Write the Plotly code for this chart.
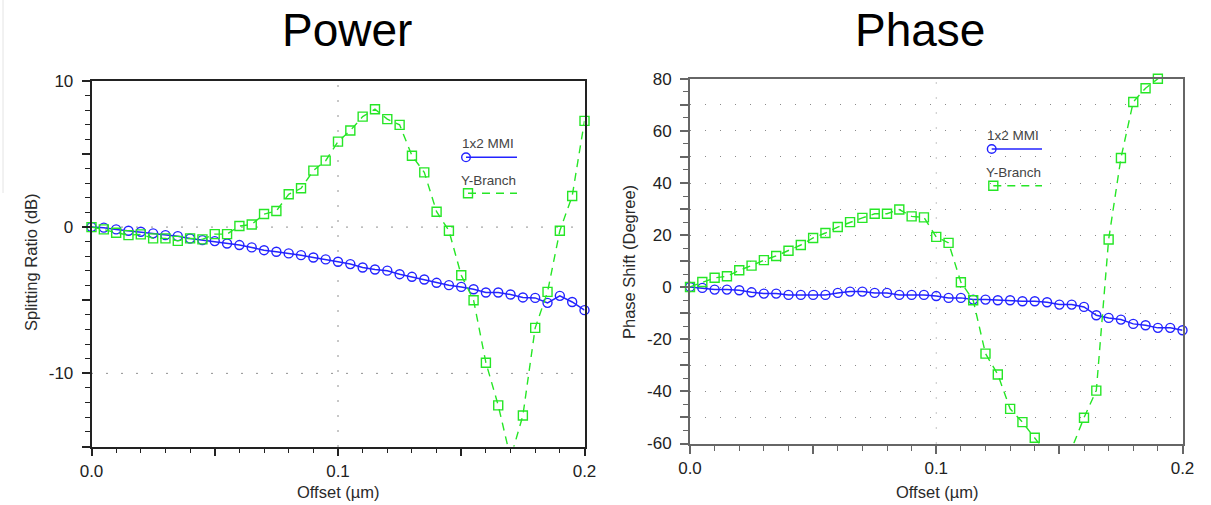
import plotly.graph_objects as go

W, H = 1211, 505

# ---------------- data ----------------
offset = [round(i * 0.005, 3) for i in range(41)]  # µm

power_mmi = [0.00, -0.04, -0.16, -0.25, -0.32, -0.43, -0.55, -0.62, -0.78, -0.89,
             -0.96, -1.12, -1.23, -1.39, -1.58, -1.69, -1.80, -1.92, -2.08, -2.21,
             -2.37, -2.53, -2.76, -2.90, -2.98, -3.22, -3.40, -3.58, -3.81, -3.97,
             -4.09, -4.25, -4.47, -4.47, -4.61, -4.81, -4.84, -5.18, -4.70, -5.12,
             -5.68]
power_yb = [0.00, -0.16, -0.39, -0.55, -0.50, -0.77, -0.77, -0.94, -0.77, -0.84,
            -0.48, -0.48, 0.07, 0.18, 0.89, 1.10, 2.24, 2.65, 3.86, 4.54,
            5.84, 6.60, 7.55, 8.06, 7.38, 6.99, 4.88, 3.74, 1.05, -0.25,
            -3.29, -5.00, -9.27, -12.19, -15.8, -12.88, -6.89, -4.43, -0.25, 2.12,
            7.26]
phase_mmi = [0.1, -0.27, -0.92, -0.92, -1.19, -1.96, -2.45, -2.45, -2.95, -2.95,
             -2.95, -2.95, -2.19, -1.69, -1.69, -2.19, -2.19, -2.95, -2.95, -2.95,
             -3.4, -4.1, -4.1, -4.76, -4.76, -5.02, -5.02, -5.41, -5.41, -5.79,
             -6.67, -6.67, -7.56, -10.78, -11.78, -12.43, -14.08, -14.61, -15.61, -15.61,
             -16.53]
phase_yb = [0.1, 2.0, 3.6, 4.2, 6.5, 8.3, 10.4, 12.0, 14.0, 16.2,
            18.9, 20.8, 23.1, 25.0, 26.6, 28.2, 28.2, 29.8, 27.2, 26.8,
            19.3, 17.0, 1.9, -5.0, -25.5, -33.5, -46.7, -51.8, -57.8, -64.0,
            -66.0, -62.0, -50.1, -39.7, 18.3, 49.6, 71.1, 76.4, 80.0, 84.0,
            87.0]

power_range = [-15, 10]
phase_range = [-60, 80]
x_range = [0, 0.2]

power_yticks = [-15, -10, -5, 0, 5, 10]
power_ytext = ['', '-10', '', '0', '', '10']
phase_yticks = list(range(-60, 81, 10))
phase_ytext = [str(v) if v % 20 == 0 else '' for v in phase_yticks]
x_ticks = [0, 0.05, 0.1, 0.15, 0.2]
x_text = ['0.0', '', '0.1', '', '0.2']

BLUE = '#2323ff'
GREEN = '#26e626'
FONT = 'Liberation Sans, Arial, sans-serif'


def px(x):
    return x / W


def py(y):
    return 1 - y / H


def in_range(vals, rng):
    return [v if rng[0] <= v <= rng[1] else None for v in vals]


fig = go.Figure()

panels = [
    ('x', 'y', power_mmi, power_yb, power_range),
    ('x2', 'y2', phase_mmi, phase_yb, phase_range),
]
for xa, ya, mmi, yb, rng in panels:
    fig.add_trace(go.Scatter(x=offset, y=mmi, mode='lines', xaxis=xa, yaxis=ya,
                             line=dict(color=BLUE, width=1.5), showlegend=False,
                             hoverinfo='skip'))
    fig.add_trace(go.Scatter(x=offset, y=in_range(mmi, rng), mode='markers', xaxis=xa, yaxis=ya,
                             marker=dict(symbol='circle-open', size=9, color=BLUE,
                                         line=dict(width=1.4, color=BLUE)),
                             cliponaxis=False, showlegend=False, name='1x2 MMI'))
    fig.add_trace(go.Scatter(x=offset, y=yb, mode='lines', xaxis=xa, yaxis=ya,
                             line=dict(color=GREEN, width=1.4, dash='8px,6px'),
                             showlegend=False, hoverinfo='skip'))
    fig.add_trace(go.Scatter(x=offset, y=in_range(yb, rng), mode='markers', xaxis=xa, yaxis=ya,
                             marker=dict(symbol='square-open', size=9, color=GREEN,
                                         line=dict(width=1.4, color=GREEN)),
                             cliponaxis=False, showlegend=False, name='Y-Branch'))

tickfont = dict(family=FONT, size=17, color='#222222')


def xaxis_cfg(domain, anchor, lc, lw):
    return dict(domain=domain, anchor=anchor, range=x_range, tickvals=x_ticks, ticktext=x_text,
                ticks='outside', ticklen=8, tickwidth=1.5, tickcolor=lc,
                minor=dict(dtick=0.01, tick0=0, ticks='outside', ticklen=5, tickwidth=1.2,
                           tickcolor=lc, showgrid=False),
                showline=True, linecolor=lc, linewidth=lw, mirror=True,
                showgrid=False, zeroline=False, tickfont=tickfont, fixedrange=True,
                automargin=False)


left_x = [91.5 / W, 584.5 / W]
left_y = [py(446.5), py(80.8)]
right_x = [690 / W, 1182.5 / W]
right_y = [py(443.5), py(78.8)]

fig.update_layout(
    width=W, height=H,
    margin=dict(l=0, r=0, t=0, b=0, pad=0, autoexpand=False),
    paper_bgcolor='white', plot_bgcolor='white',
    showlegend=False,
    xaxis=xaxis_cfg(left_x, 'y', '#222222', 1.6),
    yaxis=dict(domain=left_y, anchor='x', range=power_range, tickvals=power_yticks,
               ticktext=power_ytext, ticks='outside', ticklen=8, tickwidth=1.5,
               tickcolor='#222222', ticklabelstandoff=5,
               minor=dict(dtick=1, tick0=0, ticks='outside', ticklen=5, tickwidth=1.2,
                          tickcolor='#222222', showgrid=False),
               showline=True, linecolor='#222222', linewidth=1.6, mirror=True,
               showgrid=False, zeroline=False, tickfont=tickfont, fixedrange=True,
               automargin=False),
    xaxis2=xaxis_cfg(right_x, 'y2', '#666666', 2),
    yaxis2=dict(domain=right_y, anchor='x2', range=phase_range, tickvals=phase_yticks,
                ticktext=phase_ytext, ticks='outside', ticklen=8, tickwidth=1.5,
                tickcolor='#666666', ticklabelstandoff=5,
                minor=dict(dtick=5, tick0=0, ticks='outside', ticklen=5, tickwidth=1.2,
                           tickcolor='#666666', showgrid=False),
                showline=True, linecolor='#666666', linewidth=2, mirror=True,
                showgrid=True, gridcolor='#8a8a8a', gridwidth=1, griddash='1px,14px',
                zeroline=False, tickfont=tickfont, fixedrange=True, automargin=False),
)

shapes = []
for v in [0, -10]:
    shapes.append(dict(type='line', xref='x domain', yref='y', x0=0, x1=1, y0=v, y1=v,
                       line=dict(color='#222222', width=1, dash='1px,14px'), layer='below'))
shapes.append(dict(type='line', xref='x', yref='y domain', x0=0.1, x1=0.1, y0=0, y1=1,
                   line=dict(color='#222222', width=1, dash='1px,14px'), layer='below'))
shapes.append(dict(type='line', xref='x2', yref='y2 domain', x0=0.1, x1=0.1, y0=0, y1=1,
                   line=dict(color='#8a8a8a', width=1, dash='1px,14px'), layer='below'))

shapes.append(dict(type='line', xref='paper', yref='paper', x0=px(3), x1=px(3), y0=py(0), y1=py(193),
                   line=dict(color='#e4e4e4', width=1)))


def legend(text_x, mmi_y, yb_y, line_x0, line_x1, mmi_line_y, yb_line_y, sq_x):
    anns = [
        dict(text='1x2 MMI', x=px(text_x), y=py(mmi_y), xref='paper', yref='paper',
             showarrow=False, xanchor='center', yanchor='middle',
             font=dict(family=FONT, size=13.5, color='#444444')),
        dict(text='Y-Branch', x=px(text_x + 1), y=py(yb_y), xref='paper', yref='paper',
             showarrow=False, xanchor='center', yanchor='middle',
             font=dict(family=FONT, size=13.5, color='#444444')),
    ]
    shp = [
        dict(type='line', xref='paper', yref='paper', x0=px(line_x0), x1=px(line_x1),
             y0=py(mmi_line_y), y1=py(mmi_line_y), line=dict(color=BLUE, width=1.6)),
        dict(type='circle', xref='paper', yref='paper', x0=px(line_x0 - 4.3), x1=px(line_x0 + 4.3),
             y0=py(mmi_line_y + 4.3), y1=py(mmi_line_y - 4.3), line=dict(color=BLUE, width=1.4),
             fillcolor='rgba(0,0,0,0)'),
        dict(type='line', xref='paper', yref='paper', x0=px(sq_x), x1=px(line_x1),
             y0=py(yb_line_y), y1=py(yb_line_y), line=dict(color=GREEN, width=1.4, dash='8px,6px')),
        dict(type='rect', xref='paper', yref='paper', x0=px(sq_x - 4.5), x1=px(sq_x + 4.5),
             y0=py(yb_line_y + 4.5), y1=py(yb_line_y - 4.5), line=dict(color=GREEN, width=1.4),
             fillcolor='rgba(0,0,0,0)'),
    ]
    return anns, shp


a1, s1 = legend(487.5, 143, 180, 466, 517, 157.3, 193.3, 468)
a2, s2 = legend(1012.5, 135, 172, 991.7, 1042, 149, 185.7, 993.3)
shapes += s1 + s2

annotations = a1 + a2
title_font = dict(family=FONT, size=46, color='#000000')
label_font = dict(family=FONT, size=16.5, color='#2a2a2a')
annotations += [
    dict(text='Power', x=px(347), y=py(30), xref='paper', yref='paper', showarrow=False,
         xanchor='center', yanchor='middle', font=title_font),
    dict(text='Phase', x=px(920), y=py(30), xref='paper', yref='paper', showarrow=False,
         xanchor='center', yanchor='middle', font=title_font),
    dict(text='Splitting Ratio (dB)', x=px(31), y=py(262), xref='paper', yref='paper',
         showarrow=False, textangle=-90, xanchor='center', yanchor='middle', font=label_font),
    dict(text='Phase Shift (Degree)', x=px(629), y=py(262), xref='paper', yref='paper',
         showarrow=False, textangle=-90, xanchor='center', yanchor='middle', font=label_font),
    dict(text='Offset (µm)', x=px(338), y=py(492), xref='paper', yref='paper', showarrow=False,
         xanchor='center', yanchor='middle', font=label_font),
    dict(text='Offset (µm)', x=px(937), y=py(492), xref='paper', yref='paper', showarrow=False,
         xanchor='center', yanchor='middle', font=label_font),
]

fig.update_layout(shapes=shapes, annotations=annotations)

fig.write_html('out.html')
